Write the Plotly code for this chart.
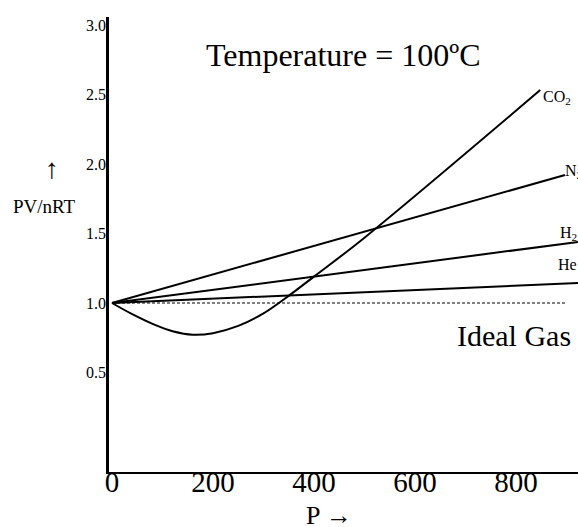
import plotly.graph_objects as go

# ---- data ----
pressure_co2 = [0, 40, 90, 120, 160, 200, 250, 300, 340, 400, 500, 848]
z_co2 = [1.0, 0.92, 0.835, 0.797, 0.772, 0.783, 0.835, 0.925, 1.025, 1.19, 1.47, 2.532]
pressure_n2 = [0, 897]
z_n2 = [1.0, 1.921]
pressure_h2 = [0, 1000]
z_h2 = [1.0, 1.476]
pressure_he = [0, 1000]
z_he = [1.0, 1.156]
pressure_ideal = [0, 901]
z_ideal = [1.0, 1.0]

x_ticks = [0, 200, 400, 600, 800]
x_tick_labels = ["0", "200", "400", "600", "800"]
y_ticks = [0.5, 1.0, 1.5, 2.0, 2.5, 3.0]
y_tick_labels = ["0.5", "1.0", "1.5", "2.0", "2.5", "3.0"]

FONT = "Liberation Serif"
fig = go.Figure()
line = dict(color="black", width=2)
fig.add_trace(go.Scatter(x=pressure_co2, y=z_co2, mode="lines",
                         line=dict(color="black", width=2, shape="spline", smoothing=1.0)))
fig.add_trace(go.Scatter(x=pressure_n2, y=z_n2, mode="lines", line=line))
fig.add_trace(go.Scatter(x=pressure_h2, y=z_h2, mode="lines", line=line))
fig.add_trace(go.Scatter(x=pressure_he, y=z_he, mode="lines", line=line))
fig.add_trace(go.Scatter(x=pressure_ideal, y=z_ideal, mode="lines",
                         line=dict(color="black", width=1, dash="3px,2px")))

L, R, T, B = 109, 578, 17, 472
W = R - L
H = B - T

def px(xp):
    return (xp - L) / W

def py(yp):
    return (B - yp) / H

ann = []
def add(text, x, y, size, xanchor="center"):
    ann.append(dict(text=text, x=px(x), y=py(y), xref="paper", yref="paper",
                    showarrow=False, xanchor=xanchor, yanchor="middle",
                    font=dict(family=FONT, size=size, color="black")))

add("Temperature = 100ºC", 343, 55, 32)
add("Ideal Gas", 455, 335, 30, "left")
add("CO<sub>2</sub>", 541, 97, 16, "left")
add("N<sub>2</sub>", 563, 171, 16, "left")
add("H<sub>2</sub>", 558, 233, 16, "left")
add("He", 556, 264, 16, "left")
add("PV/nRT", 44, 207, 19)
add("↑", 52, 168, 28)
add("P →", 329, 515, 26)

fig.update_layout(
    width=578, height=527,
    margin=dict(l=L, r=578 - R, t=T, b=527 - B),
    paper_bgcolor="white", plot_bgcolor="white",
    showlegend=False,
    hovermode=False,
    annotations=ann,
    xaxis=dict(range=[(L - 112) / 0.505, (R - 112) / 0.505],
               tickvals=x_ticks, ticktext=x_tick_labels,
               showgrid=False, zeroline=False, showline=True,
               linecolor="black", linewidth=1.5, ticks="",
               ticklabelstandoff=-17,
               tickfont=dict(family=FONT, size=29, color="black")),
    yaxis=dict(range=[1 - (B - 303) / 139, 1 + (303 - T) / 139],
               tickvals=y_ticks, ticktext=y_tick_labels,
               showgrid=False, zeroline=False, showline=True,
               linecolor="black", linewidth=2.5, ticks="",
               ticklabelstandoff=-3,
               tickfont=dict(family=FONT, size=16, color="black")),
)
fig.write_html("out.html", config={"displayModeBar": False},
               post_script="document.body.style.margin='0';document.body.style.overflow='hidden';")
